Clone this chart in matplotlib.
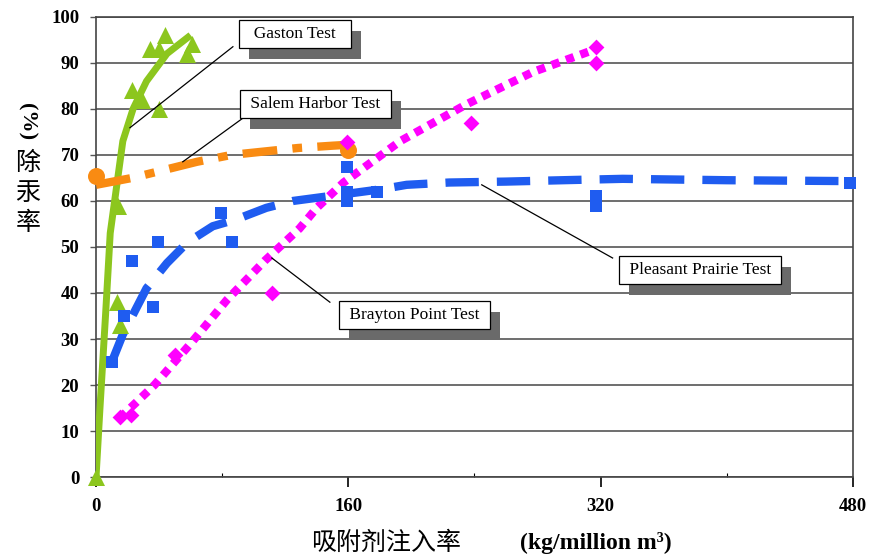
import numpy as np
import matplotlib.pyplot as plt
from matplotlib.patches import Rectangle

plt.rcParams["lines.scale_dashes"] = False

# Gaston test (green)
gaston_fit_x = [0, 2.5, 6, 9, 13, 17, 23.5, 32, 45, 60]
gaston_fit_y = [0, 15, 35, 53, 63, 73, 80, 86, 92, 96]
gaston_x = [0, 13, 15, 14, 23, 29, 34, 40, 44, 40, 58, 61]
gaston_y = [0, 38, 33, 59, 84, 82, 93, 93, 96, 80, 92, 94]

# Salem Harbor test (orange)
salem_fit_x = [0, 23, 64, 86, 128, 150, 165]
salem_fit_y = [63.5, 65, 68.5, 70, 71.5, 72, 72.3]
salem_x = [0, 160]
salem_y = [65.5, 71]

# Brayton Point test (magenta)
brayton_fit_x = [15, 37, 60, 83, 107, 129, 140, 157, 193, 235, 277, 317]
brayton_fit_y = [12.8, 20, 29, 38.5, 47, 54, 58.5, 64, 73, 81, 88, 93]
brayton_x = [15, 22, 50, 111.5, 159, 238, 317, 317]
brayton_y = [13, 13.5, 26.5, 40, 72.8, 77, 90, 93.5]

# Pleasant Prairie test (blue)
pleasant_fit_x = [10, 17, 32, 45, 58, 74, 89, 108, 125, 180, 197, 224, 260, 296, 334, 400, 480]
pleasant_fit_y = [25, 31, 41, 46.5, 51, 54.5, 56, 58.5, 60, 62.5, 63.5, 64, 64.2, 64.5, 64.8, 64.5, 64.3]
pleasant_x = [10, 18, 23, 39, 36, 79, 86, 159, 159, 159, 178, 317, 317, 478]
pleasant_y = [25, 35, 47, 51, 37, 57.4, 51, 67.4, 62, 60, 62, 61, 59, 64]

# callout labels: text, box centre, leader start, leader end
labels = ["  Gaston Test  ", " Salem Harbor Test ", " Pleasant Prairie Test ", " Brayton Point Test "]
label_xy = [(126, 96.3), (139, 81), (383, 45), (202, 35.2)]
leader_from = [(21.5, 75.9), (55, 68.5), (244.6, 63.5), (111.5, 47.6)]
leader_to = [(86.8, 93.5), (94.4, 78.3), (327.6, 47.6), (148.3, 38)]

green = "#8cc61e"
orange = "#f98b12"
magenta = "#ff00ff"
blue = "#1f5cf0"

fig = plt.figure(figsize=(8.73, 5.6), dpi=100)
ax = fig.add_axes([0.110, 0.148, 0.867, 0.822])

# fitted lines
ax.plot(gaston_fit_x, gaston_fit_y, color=green, lw=5, solid_capstyle="butt", zorder=4)
l, = ax.plot(salem_fit_x, salem_fit_y, color=orange, lw=6, zorder=4)
l.set_dashes((25, 11, 7, 11))
l.set_dash_capstyle("butt")
l, = ax.plot(brayton_fit_x, brayton_fit_y, color=magenta, lw=6, zorder=4)
l.set_dashes((6, 5))
l.set_dash_capstyle("butt")
l, = ax.plot(pleasant_fit_x, pleasant_fit_y, color=blue, lw=6, zorder=4)
l.set_dashes((24, 13))
l.set_dash_capstyle("butt")

# measured points
ax.scatter(gaston_x, gaston_y, marker="^", s=150, color=green, zorder=5, linewidths=0, clip_on=False)
ax.scatter(salem_x, salem_y, marker="o", s=150, color=orange, zorder=5, linewidths=0, clip_on=False)
ax.scatter(brayton_x, brayton_y, marker="D", s=65, color=magenta, zorder=5, linewidths=0, clip_on=False)
ax.scatter(pleasant_x, pleasant_y, marker="s", s=80, color=blue, zorder=5, linewidths=0, clip_on=False)

# callouts
boxes = []
for txt, (tx, ty), (x0, y0), (x1, y1) in zip(labels, label_xy, leader_from, leader_to):
    ax.plot([x0, x1], [y0, y1], color="black", lw=0.9, zorder=6)
    t = ax.text(tx, ty, txt, ha="center", va="center", fontsize=12.5,
                family="Liberation Serif", zorder=7,
                bbox=dict(boxstyle="square,pad=0.35", fc="white", ec="black", lw=0.9))
    boxes.append(t)

ax.set_xlim(0, 480)
ax.set_ylim(0, 100)
ax.set_yticks(np.arange(0, 101, 10))
ax.set_xticks([0, 160, 320, 480])
ax.set_xticks([80, 240, 400], minor=True)
ax.grid(axis="y", color="#555555", lw=1.2, zorder=1)
for s in ax.spines.values():
    s.set_color("#444444")
    s.set_linewidth(1.2)
ax.tick_params(axis="y", length=4, width=1, color="#555555", pad=8)
ax.tick_params(axis="x", which="major", length=7, width=1.2, pad=8)
ax.tick_params(axis="x", which="minor", length=3, width=0.8, direction="in")
for t in ax.get_xticklabels() + ax.get_yticklabels():
    t.set_fontfamily("Liberation Serif")
    t.set_fontweight("bold")
    t.set_fontsize(13.5)

# axis titles
fig.text(0.442, 0.03, "吸附剂注入率", fontsize=18, family="Noto Sans CJK SC",
         ha="center", va="center")
fig.text(0.682, 0.03, "(kg/million m³)", fontsize=17,
         family="Liberation Serif", fontweight="bold", ha="center", va="center")
for ch, yp in zip("除汞率", [163, 193, 223]):
    fig.text(0.032, 1 - yp / 560, ch, fontsize=18, family="Noto Sans CJK SC",
             ha="center", va="center")
fig.text(0.030, 1 - 122 / 560, "(%)", fontsize=16, family="Liberation Serif",
         fontweight="bold", ha="center", va="center", rotation=-90)

# drop shadows behind the callout boxes
fig.canvas.draw()
renderer = fig.canvas.get_renderer()
for t in boxes:
    bb = t.get_bbox_patch().get_window_extent(renderer)
    bb = bb.transformed(fig.transFigure.inverted())
    ax.add_patch(Rectangle((bb.x0 + 10 / 873, bb.y0 - 11 / 560), bb.width, bb.height,
                           transform=fig.transFigure, fc="#6a6a6a", ec="none", zorder=6.5))

fig.savefig("out.png", dpi=100)
